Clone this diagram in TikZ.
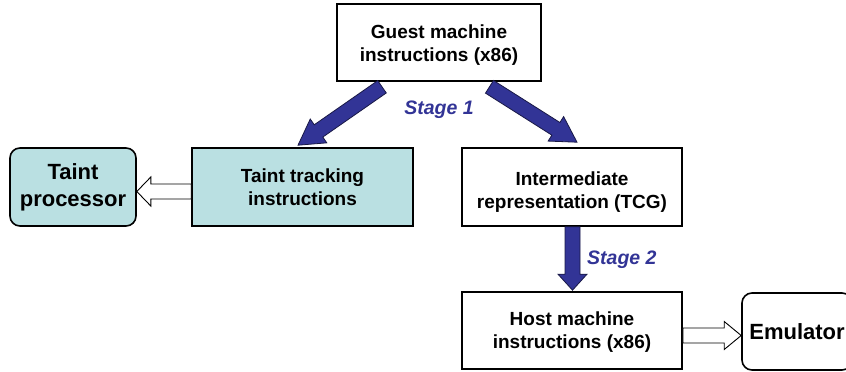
\documentclass[tikz,border=0pt]{standalone}
\usepackage{fontspec}
\setmainfont{Liberation Sans}
\usetikzlibrary{calc}

\definecolor{stageblue}{RGB}{50,52,150}
\definecolor{stageedge}{RGB}{25,25,70}
\definecolor{taintfill}{RGB}{186,224,226}

\tikzset{
  box/.style={draw=black, line width=1.6pt, inner sep=0pt},
  boxtext/.style={align=center, inner sep=0pt, font=\bfseries\fontsize{19}{23}\selectfont},
  bigbox/.style={draw=black, line width=1.6pt, align=center, inner sep=0pt,
    rounded corners=10pt, font=\bfseries\fontsize{22}{27}\selectfont},
  fatarrow/.style={fill=stageblue, draw=stageedge, line width=0.8pt, line join=miter},
  openarrow/.style={fill=white, draw=black, line width=0.9pt, line join=miter},
  stagelabel/.style={text=stageblue, font=\bfseries\itshape\fontsize{19.5}{24}\selectfont, inner sep=0pt}
}

% block arrow from #2 to tip #3: shaft half width #4, head half width #5, head length #6
\newcommand\blockarrow[6]{%
  \path ($(#3)!#6!(#2)$) coordinate (hb);
  \draw[#1] ($(#2)!#4!90:(#3)$) -- ($(hb)!#4!90:(#3)$) -- ($(hb)!#5!90:(#3)$)
    -- (#3) -- ($(hb)!#5!-90:(#3)$) -- ($(hb)!#4!-90:(#3)$) -- ($(#2)!#4!-90:(#3)$) -- cycle;
}

\begin{document}
\begin{tikzpicture}[x=1pt, y=-1pt]
\useasboundingbox (0,0) rectangle (846,372);
\clip (0,0) rectangle (846,372);

% boxes
\node[box, minimum width=204pt, minimum height=77pt] (guest) at (439,42.5) {};
\node[box, fill=taintfill, minimum width=221pt, minimum height=78pt] (tt) at (302.5,187) {};
\node[bigbox, fill=taintfill, minimum width=126pt, minimum height=78pt] (tproc) at (73,187)
  {Taint\\processor};
\node[box, minimum width=220pt, minimum height=78pt] (ir) at (572,187) {};
\node[box, minimum width=220pt, minimum height=77pt] (host) at (572,330.5) {};
\node[bigbox, minimum width=110pt, minimum height=77pt] (emu) at (797,331.5)
  {Emulator};

% box captions
\node[boxtext] (guestT) at ([yshift=-3pt]guest.center) {Guest machine\\instructions (x86)};
\node[boxtext] (ttT) at (tt.center) {Taint tracking\\instructions};
\node[boxtext] (irT) at ([yshift=-5pt]ir.center) {Intermediate\\representation (TCG)};
\node[boxtext] (hostT) at ([yshift=-2pt]host.center) {Host machine\\instructions (x86)};

% arrow end points
\coordinate (s1ls) at ([xshift=-57pt,yshift=-5pt]guest.south);
\coordinate (s1lt) at ([xshift=-4.5pt,yshift=2pt]tt.north);
\coordinate (s1rs) at ([xshift=50.5pt,yshift=-5pt]guest.south);
\coordinate (s1rt) at ([xshift=5pt,yshift=5pt]ir.north);
\coordinate (s2s) at ([xshift=0.5pt]ir.south);
\coordinate (s2t) at ([xshift=0.5pt,yshift=1pt]host.north);
\coordinate (ts) at ([yshift=-4.5pt]tt.west);
\coordinate (tt2) at ([yshift=-4.5pt]tproc.east);
\coordinate (hs) at ([yshift=-5pt]host.east);
\coordinate (ht) at ([yshift=-4pt]emu.west);

% stage 1 and stage 2 translation arrows
\blockarrow{fatarrow}{s1ls}{s1lt}{7.5pt}{14.5pt}{25pt}
\blockarrow{fatarrow}{s1rs}{s1rt}{7.5pt}{14.5pt}{25pt}
\blockarrow{fatarrow}{s2s}{s2t}{7.5pt}{14.5pt}{16pt}

% hand-off arrows
\blockarrow{openarrow}{ts}{tt2}{7.5pt}{14.5pt}{14pt}
\blockarrow{openarrow}{hs}{ht}{7.5pt}{14pt}{17pt}

% stage labels
\node[stagelabel] (st1) at (439,110) {Stage 1};
\node[stagelabel, anchor=west] (st2) at (587,260) {Stage 2};
\end{tikzpicture}
\end{document}
